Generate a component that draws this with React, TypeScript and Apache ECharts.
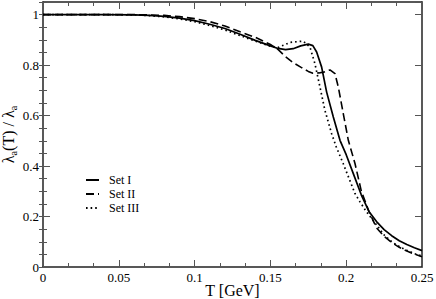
import React, { useEffect, useRef } from "react";
import * as echarts from "echarts";

const FONT = "Liberation Serif";

// Set I (solid)
const tSet1 = [0, 0.02, 0.04, 0.06, 0.07, 0.08, 0.09, 0.1, 0.11, 0.12, 0.13, 0.14, 0.15, 0.155, 0.16, 0.165, 0.17, 0.175, 0.178, 0.1805, 0.1838, 0.1871, 0.1915, 0.1959, 0.2, 0.205, 0.21, 0.215, 0.22, 0.225, 0.23, 0.235, 0.24, 0.245, 0.25];
const vSet1 = [1, 1, 1, 0.999, 0.997, 0.993, 0.986, 0.976, 0.962, 0.945, 0.922, 0.898, 0.876, 0.866, 0.861, 0.865, 0.876, 0.883, 0.877, 0.852, 0.792, 0.693, 0.594, 0.502, 0.445, 0.365, 0.285, 0.22, 0.18, 0.148, 0.124, 0.104, 0.089, 0.076, 0.065];

// Set II (dashed)
const tSet2 = [0, 0.02, 0.04, 0.06, 0.07, 0.08, 0.09, 0.1, 0.11, 0.12, 0.13, 0.14, 0.15, 0.155, 0.16, 0.165, 0.17, 0.175, 0.178, 0.182, 0.185, 0.1893, 0.1926, 0.1948, 0.1981, 0.2014, 0.2058, 0.21, 0.215, 0.22, 0.225, 0.23, 0.235, 0.24, 0.245, 0.25];
const vSet2 = [1, 1, 1, 1, 0.999, 0.997, 0.992, 0.984, 0.972, 0.955, 0.932, 0.91, 0.882, 0.862, 0.833, 0.81, 0.792, 0.775, 0.768, 0.769, 0.772, 0.781, 0.766, 0.713, 0.607, 0.502, 0.41, 0.3, 0.22, 0.155, 0.122, 0.097, 0.078, 0.063, 0.051, 0.041];

// Set III (dotted)
const tSet3 = [0, 0.02, 0.04, 0.06, 0.07, 0.08, 0.09, 0.1, 0.11, 0.12, 0.13, 0.14, 0.15, 0.155, 0.16, 0.163, 0.1717, 0.1761, 0.1794, 0.1827, 0.186, 0.1904, 0.1935, 0.198, 0.2058, 0.2091, 0.213, 0.219, 0.225, 0.23, 0.235, 0.24, 0.245, 0.25];
const vSet3 = [1, 1, 1, 0.999, 0.996, 0.991, 0.983, 0.972, 0.957, 0.939, 0.917, 0.895, 0.875, 0.87, 0.882, 0.89, 0.895, 0.871, 0.805, 0.713, 0.62, 0.528, 0.475, 0.41, 0.291, 0.258, 0.222, 0.175, 0.127, 0.1, 0.081, 0.066, 0.053, 0.043];

const seriesNames = ["Set I", "Set II", "Set III"];
const xTickLabels = ["0", "0.05", "0.1", "0.15", "0.2", "0.25"];
const yTickLabels = ["0", "0.2", "0.4", "0.6", "0.8", "1"];

const pairs = (t: number[], v: number[]) => t.map((x, i) => [x, v[i]]);

export default function App() {
  const ref = useRef<HTMLDivElement>(null);
  useEffect(() => {
    if (!ref.current) return;
    const chart = echarts.init(ref.current, null, { renderer: "svg" });
    const axisLineStyle = { color: "#222", width: 1.5 };
    const tickStyle = { color: "#555", width: 1 };
    const xBase = {
      type: "value" as const,
      min: 0,
      max: 0.25,
      interval: 0.05,
      splitLine: { show: false },
      axisLine: { show: true, onZero: false, lineStyle: axisLineStyle },
      axisTick: { show: true, inside: true, length: 7, lineStyle: tickStyle },
      minorTick: { show: true, splitNumber: 3, length: 4, lineStyle: tickStyle },
    };
    const yMajor = {
      type: "value" as const,
      min: 0,
      max: 1.05,
      interval: 0.2,
      splitLine: { show: false },
      axisLine: { show: true, onZero: false, lineStyle: axisLineStyle },
      axisTick: { show: true, inside: true, length: 7, lineStyle: tickStyle },
    };
    const yMinor = {
      type: "value" as const,
      min: 0,
      max: 1.05,
      interval: 0.05,
      splitLine: { show: false },
      axisLine: { show: false },
      axisLabel: { show: false },
      axisTick: { show: true, inside: true, length: 4, lineStyle: tickStyle },
    };
    const styles = [
      { type: "solid" as any, width: 1.7 },
      { type: [8, 4] as any, width: 1.6 },
      { type: [1.6, 3] as any, width: 1.7 },
    ];
    const data = [pairs(tSet1, vSet1), pairs(tSet2, vSet2), pairs(tSet3, vSet3)];
    chart.setOption({
      animation: false,
      backgroundColor: "#fff",
      textStyle: { fontFamily: FONT, color: "#000" },
      grid: { left: 43, right: 14, top: 2, bottom: 32, containLabel: false, outerBoundsMode: "none" },
      legend: {
        orient: "vertical",
        left: 85,
        top: 174,
        padding: 0,
        itemWidth: 13,
        itemHeight: 10,
        itemGap: 2,
        data: seriesNames,
        itemStyle: { opacity: 0 },
        textStyle: { fontFamily: FONT, fontSize: 12, fontWeight: 400, color: "#000", padding: [0, 0, 0, 5] },
      },
      xAxis: [
        {
          ...xBase,
          position: "bottom",
          name: "T [GeV]",
          nameLocation: "middle",
          nameGap: 15,
          nameMoveOverlap: false,
          nameTextStyle: { fontFamily: FONT, fontSize: 16, color: "#000" },
          axisLabel: {
            show: true,
            margin: 4,
            fontFamily: FONT,
            fontSize: 13,
            color: "#000",
            formatter: (v: number) => xTickLabels[Math.round(v / 0.05)] ?? "",
          },
        },
        { ...xBase, position: "top", axisLabel: { show: false } },
      ],
      yAxis: [
        {
          ...yMajor,
          position: "left",
          name: "{m|λ}{s|a}{m|(T) / λ}{s|a}",
          nameLocation: "middle",
          nameGap: 25,
          nameMoveOverlap: false,
          nameTextStyle: {
            fontFamily: FONT,
            fontSize: 16,
            color: "#000",
            rich: {
              m: { fontFamily: FONT, fontSize: 16, color: "#000", lineHeight: 20 },
              s: { fontFamily: FONT, fontSize: 10, color: "#000", verticalAlign: "bottom" },
            },
          },
          axisLabel: {
            show: true,
            margin: 4,
            fontFamily: FONT,
            fontSize: 13,
            color: "#000",
            showMaxLabel: false,
            formatter: (v: number) => (v > 1.001 ? "" : yTickLabels[Math.round(v / 0.2)] ?? ""),
          },
        },
        { ...yMinor, position: "left" },
        { ...yMajor, position: "right", axisLabel: { show: false } },
        { ...yMinor, position: "right" },
      ],
      series: seriesNames.map((name, i) => ({
        name,
        type: "line",
        xAxisIndex: 0,
        yAxisIndex: 0,
        data: data[i],
        showSymbol: false,
        symbol: "none",
        smooth: false,
        lineStyle: { color: "#000", ...styles[i] },
        itemStyle: { color: "#000" },
      })),
    });
    return () => chart.dispose();
  }, []);
  return <div ref={ref} style={{ position: "fixed", left: 0, top: 0, width: 436, height: 299 }} />;
}
